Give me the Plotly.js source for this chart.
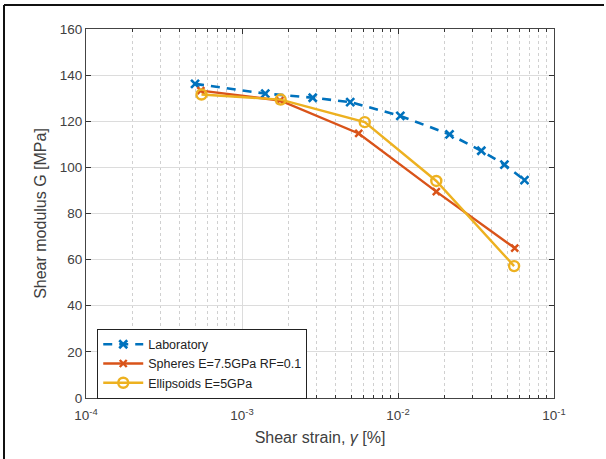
<!DOCTYPE html>
<html>
<head>
<meta charset="utf-8">
<script src="https://cdn.plot.ly/plotly-3.0.1.min.js"></script>
<style>html,body{margin:0;padding:0;background:#fff;}#chart{width:606px;height:459px;}</style>
</head>
<body>
<div id="chart"></div>
<script>
var labStrain = [5.0e-4, 1.41e-3, 2.84e-3, 4.94e-3, 1.035e-2, 2.14e-2, 3.42e-2, 4.81e-2, 6.47e-2];
var labG      = [136.2, 132.0, 130.2, 128.3, 122.3, 114.3, 107.2, 101.2, 94.5];
var sphStrain = [5.45e-4, 1.75e-3, 5.6e-3, 1.76e-2, 5.6e-2];
var sphG      = [133.3, 129.0, 114.7, 89.5, 65.0];
var ellStrain = [5.5e-4, 1.77e-3, 6.12e-3, 1.76e-2, 5.55e-2];
var ellG      = [131.6, 129.4, 119.6, 94.1, 57.2];
var xTickVals = [1e-4, 1e-3, 1e-2, 1e-1];
var xTickText = ['10<sup>-4</sup>', '10<sup>-3</sup>', '10<sup>-2</sup>', '10<sup>-1</sup>'];
var yTickVals = [0, 20, 40, 60, 80, 100, 120, 140, 160];
var seriesNames = ['Laboratory', 'Spheres E=7.5GPa RF=0.1', 'Ellipsoids E=5GPa'];

var font = 'Liberation Sans, Arial, Helvetica, sans-serif';
var traces = [
  {x: labStrain, y: labG, name: seriesNames[0], type: 'scatter', mode: 'lines+markers',
   line: {color: '#0072BD', width: 2.6, dash: '9px,7px'},
   marker: {symbol: 'x-thin-open', size: 8, color: '#0072BD', line: {width: 2.6, color: '#0072BD'}}},
  {x: sphStrain, y: sphG, name: seriesNames[1], type: 'scatter', mode: 'lines+markers',
   line: {color: '#D95319', width: 2.4},
   marker: {symbol: 'x-thin-open', size: 7, color: '#D95319', line: {width: 2.4, color: '#D95319'}}},
  {x: ellStrain, y: ellG, name: seriesNames[2], type: 'scatter', mode: 'lines+markers',
   line: {color: '#EDB120', width: 2.4},
   marker: {symbol: 'circle-open', size: 10, color: '#EDB120', line: {width: 2.4, color: '#EDB120'}}}
];

var layout = {
  width: 606, height: 459,
  margin: {l: 86, r: 52, t: 29, b: 61},
  paper_bgcolor: '#fff', plot_bgcolor: '#fff',
  font: {family: font, size: 13.5, color: '#404040'},
  showlegend: true,
  legend: {x: 0.024, y: 0.188, xanchor: 'left', yanchor: 'top', bgcolor: '#fff',
           bordercolor: '#222', borderwidth: 1, font: {family: font, size: 12.5, color: '#222'},
           tracegroupgap: 0, itemwidth: 40},
  xaxis: {type: 'log', range: [-4, -1], tickvals: xTickVals, ticktext: xTickText,
          showgrid: true, gridcolor: '#dcdcdc', gridwidth: 1,
          ticks: 'inside', ticklen: 5, tickcolor: '#333', mirror: 'ticks',
          showline: true, linecolor: '#444', linewidth: 1, zeroline: false,
          ticklabelstandoff: 5,
          tickfont: {family: font, size: 13.5, color: '#404040'},
          minor: {tickvals: [2e-4,3e-4,4e-4,5e-4,6e-4,7e-4,8e-4,9e-4,2e-3,3e-3,4e-3,5e-3,6e-3,7e-3,8e-3,9e-3,2e-2,3e-2,4e-2,5e-2,6e-2,7e-2,8e-2,9e-2],
                 showgrid: true, gridcolor: '#d0d0d0', griddash: 'dot', gridwidth: 1,
                 ticks: 'inside', ticklen: 3, tickcolor: '#333'},
          title: {text: 'Shear strain, <i>γ</i> [%]', font: {family: font, size: 16, color: '#404040'}, standoff: 9}},
  yaxis: {range: [0, 160], tickvals: yTickVals,
          showgrid: true, gridcolor: '#dcdcdc', gridwidth: 1,
          ticks: 'inside', ticklen: 5, tickcolor: '#333', mirror: 'ticks',
          showline: true, linecolor: '#444', linewidth: 1, zeroline: false,
          tickfont: {family: font, size: 13.5, color: '#404040'},
          title: {text: 'Shear modulus G [MPa]', font: {family: font, size: 16, color: '#404040'}, standoff: 9}},
  shapes: [
    {type: 'line', xref: 'paper', yref: 'paper', x0: (4-86)/468, x1: (4-86)/468, y0: (398-5)/369, y1: (398-462)/369,
     line: {color: '#111', width: 2}},
    {type: 'line', xref: 'paper', yref: 'paper', x0: (4-86)/468, x1: (604-86)/468, y0: (398-5)/369, y1: (398-5)/369,
     line: {color: '#111', width: 2}}
  ]
};
Plotly.newPlot('chart', traces, layout, {displayModeBar: false, staticPlot: true});
</script>
</body>
</html>
